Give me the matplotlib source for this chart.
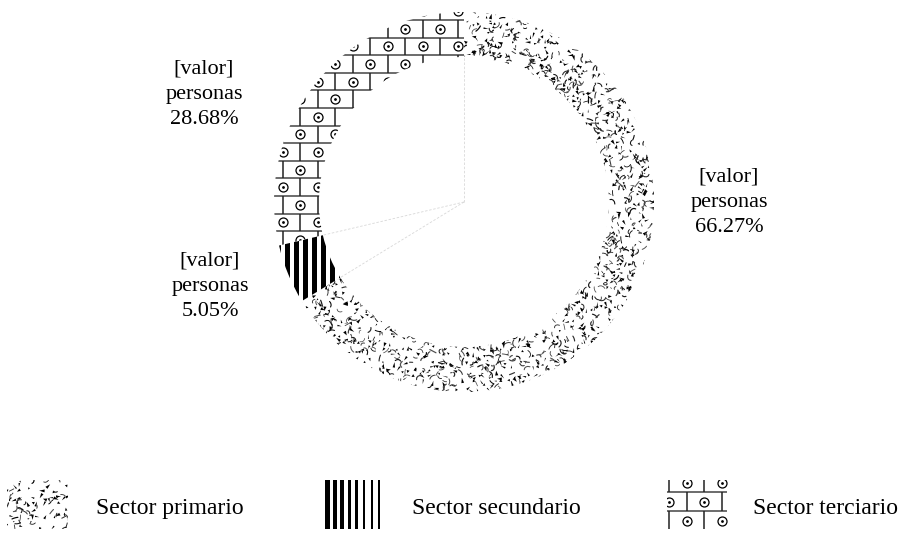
import numpy as np
import matplotlib.pyplot as plt
from matplotlib.collections import PolyCollection, LineCollection
from matplotlib.patches import Rectangle

# sector shares (percent of people) and label text
sectors = ["Sector primario", "Sector secundario", "Sector terciario"]
shares = [66.27, 5.05, 28.68]
value_text = "[valor]"
unit_text = "personas"

W, H = 903, 536
CX, CY = 464, 202
R_OUT, R_IN = 190, 145

plt.rcParams["font.family"] = ["Liberation Serif", "DejaVu Serif"]

rng = np.random.default_rng(11)


def confetti(ax, x0, x1, y0, y1, clip, dens=1.0):
    """Scattered black slivers and short hooked strokes."""
    area = (x1 - x0) * (y1 - y0)
    n_tri = int(area / 48 * dens)
    n_str = int(area / 70 * dens)

    c = np.column_stack([rng.uniform(x0, x1, n_tri), rng.uniform(y0, y1, n_tri)])
    ang = rng.uniform(0, 2 * np.pi, n_tri)
    ln = rng.uniform(2.0, 5.5, n_tri)
    wd = rng.uniform(0.4, 1.6, n_tri)
    d = np.column_stack([np.cos(ang), np.sin(ang)])
    perp = np.column_stack([-np.sin(ang), np.cos(ang)])
    tris = np.stack([c + ln[:, None] * d, c + wd[:, None] * perp,
                     c - wd[:, None] * perp], axis=1)
    pc = PolyCollection(tris, facecolors="black", edgecolors="none")
    ax.add_collection(pc)
    pc.set_clip_path(clip)

    t = np.linspace(0, 1, 5)
    p0 = np.column_stack([rng.uniform(x0, x1, n_str), rng.uniform(y0, y1, n_str)])
    a0 = rng.uniform(0, 2 * np.pi, n_str)
    L = rng.uniform(3.0, 7.0, n_str)
    k = rng.uniform(-1.3, 1.3, n_str)
    segs = []
    for p, a, l, kk in zip(p0, a0, L, k):
        th = a + kk * t
        segs.append(p + (l * t)[:, None] * np.column_stack([np.cos(th), np.sin(th)]))
    shade = rng.uniform(0.0, 0.35, n_str)
    cols = [(s, s, s, 1.0) for s in shade]
    lc = LineCollection(segs, colors=cols, linewidths=rng.uniform(0.5, 0.9, n_str),
                        capstyle="round")
    ax.add_collection(lc)
    lc.set_clip_path(clip)


def stripes(ax, x_start, widths, period, y0, y1, clip):
    for i, w in enumerate(widths):
        r = Rectangle((x_start + i * period, y0), w, y1 - y0,
                      facecolor="black", edgecolor="none")
        ax.add_patch(r)
        r.set_clip_path(clip)


def bricks(ax, x0, x1, y0, y1, y_ref, bh, x_even, x_odd, bw, clip):
    """Running-bond bricks, one circled dot per brick."""
    k0 = int(np.floor((y0 - y_ref) / bh)) - 1
    k1 = int(np.ceil((y1 - y_ref) / bh)) + 1
    hsegs, vsegs, centers = [], [], []
    for k in range(k0, k1):
        ya = y_ref + k * bh
        yb = ya + bh
        hsegs.append([(x0, ya), (x1, ya)])
        xr = x_even if k % 2 == 0 else x_odd
        j0 = int(np.floor((x0 - xr) / bw)) - 1
        j1 = int(np.ceil((x1 - xr) / bw)) + 1
        for j in range(j0, j1):
            xv = xr + j * bw
            vsegs.append([(xv, ya), (xv, yb)])
            centers.append((xv + bw / 2, (ya + yb) / 2))
    hl = LineCollection(hsegs, colors="#444444", linewidths=1.1)
    vl = LineCollection(vsegs, colors="#222222", linewidths=1.1)
    for coll in (hl, vl):
        ax.add_collection(coll)
        coll.set_clip_path(clip)
    centers = np.array(centers)
    ring = ax.scatter(centers[:, 0], centers[:, 1], s=42, marker="o",
                      facecolors="white", edgecolors="black", linewidths=0.9, zorder=3)
    dot = ax.scatter(centers[:, 0], centers[:, 1], s=4, marker="o",
                     color="black", linewidths=0, zorder=4)
    ring.set_clip_path(clip)
    dot.set_clip_path(clip)


fig = plt.figure(figsize=(W / 100, H / 100), dpi=100)
ax = fig.add_axes([0, 0, 1, 1])

wedges, _ = ax.pie(shares, center=(CX, CY), radius=R_OUT, startangle=270,
                   counterclock=True,
                   wedgeprops=dict(width=R_OUT - R_IN, facecolor="white",
                                   edgecolor="none", linewidth=0))
ax.set_xlim(0, W)
ax.set_ylim(H, 0)
ax.set_aspect("auto")
ax.axis("off")

# faint spokes from the centre to each slice boundary
bounds = 270 + 360 * np.concatenate([[0], np.cumsum(shares)[:-1]]) / 100.0
for b in bounds:
    th = np.deg2rad(b)
    ax.plot([CX, CX + R_IN * np.cos(th)], [CY, CY + R_IN * np.sin(th)],
            color="#d8d8d8", lw=0.6, ls=(0, (3, 2)), zorder=1)

# ring textures
confetti(ax, CX - R_OUT - 2, CX + R_OUT + 2, CY - R_OUT - 2, CY + R_OUT + 2, wedges[0])
stripes(ax, 276, [5.5] * 8, 9, CY - 10, CY + R_OUT, wedges[1])
bricks(ax, CX - R_OUT - 2, CX + 8, CY - R_OUT - 2, CY + 60,
       20, 17.6, 388, 370.5, 35, wedges[2])

# slice labels
label_xy = [(729, 202), (210, 286), (204, 94)]
for share, (lx, ly) in zip(shares, label_xy):
    ax.text(lx, ly, f"{value_text}\n{unit_text}\n{share:.2f}%",
            ha="center", va="center", fontsize=16, linespacing=1.45)

# legend row
sw_y0, sw_y1 = 480, 529
sw_x = [(7, 68), (325, 380), (667, 727)]
txt_x = [96, 412, 753]
clips = []
for (xa, xb) in sw_x:
    r = Rectangle((xa, sw_y0), xb - xa, sw_y1 - sw_y0, facecolor="white",
                  edgecolor="none")
    ax.add_patch(r)
    clips.append(r)

confetti(ax, 7, 68, sw_y0, sw_y1, clips[0], dens=0.8)
stripes(ax, 325, np.linspace(5.0, 1.5, 8), 7.6, sw_y0, sw_y1, clips[1])
bricks(ax, 667, 727, sw_y0, sw_y1 + 1, 492, 19, 687, 669.5, 35, clips[2])

for name, tx in zip(sectors, txt_x):
    ax.text(tx, 514, name, ha="left", va="baseline", fontsize=17)

fig.savefig("out.png", dpi=100, facecolor="white")
